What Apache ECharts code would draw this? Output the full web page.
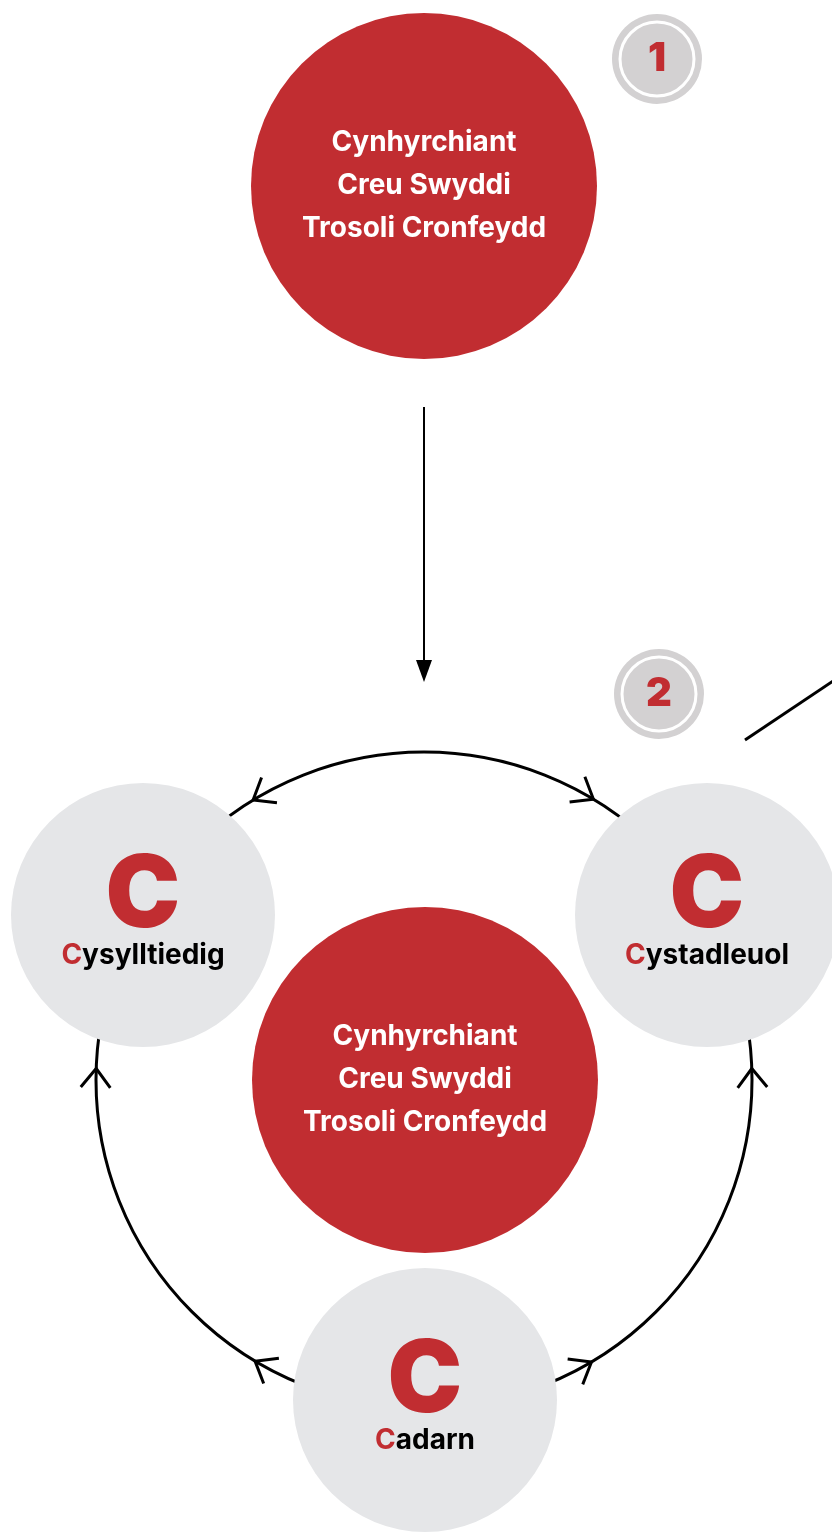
<!DOCTYPE html>
<html><head><meta charset="utf-8">
<script src="https://cdn.jsdelivr.net/npm/echarts@6/dist/echarts.min.js"></script>
<style>html,body{margin:0;padding:0;background:#fff}#c{width:832px;height:1532px}</style>
</head><body><div id="c"></div>
<script>
// ---- content ----
const hubLines = ['Cynhyrchiant', 'Creu Swyddi', 'Trosoli Cronfeydd'];
const pillarNames = ['Cysylltiedig', 'Cystadleuol', 'Cadarn'];
const stepNumbers = ['1', '2'];
const flowDirections = [-1, 1, 1, -1, 1, -1];

// ---- layout & style ----
const RED = '#c12d31', GREY = '#e5e6e8', BADGE = '#d3d1d2', INK = '#000';
const FONT = 'Inter, "Noto Sans", sans-serif';
const layout = {
  hubs: [[424, 186], [425, 1080]],
  hubSize: 346,
  pillars: [[143, 915], [707, 915], [425, 1400]],
  pillarSize: 264,
  badges: [[657, 59], [659, 694]],
  ringCenter: [424, 1080], ringR: 328,
  ringArrowAngles: [-121.4, -58.9, 182, -2, 121, 59.3],
  downArrow: [424, 407, 424, 682],
  diag: [745, 740, 845, 673]
};

const chart = echarts.init(document.getElementById('c'), null, {renderer: 'canvas'});
const option = {
  animation: false,
  grid: {left: 0, right: 0, top: 0, bottom: 0},
  xAxis: {type: 'value', min: 0, max: 832, show: false},
  yAxis: {type: 'value', min: 0, max: 1532, inverse: true, show: false},
  series: [
    { // ring
      type: 'custom', z: 1, silent: true, clip: false,
      data: [layout.ringCenter],
      renderItem(params, api) {
        const c = api.coord([api.value(0), api.value(1)]);
        const r = api.size([layout.ringR, 0])[0];
        return {type: 'circle', shape: {cx: c[0], cy: c[1], r}, style: {fill: 'none', stroke: INK, lineWidth: 3}};
      }
    },
    { // ring arrow chevrons
      type: 'custom', z: 1, silent: true, clip: false,
      data: layout.ringArrowAngles.map((a, i) => [a, flowDirections[i]]),
      renderItem(params, api) {
        const th = api.value(0) * Math.PI / 180, d = api.value(1);
        const c = api.coord(layout.ringCenter);
        const r = api.size([layout.ringR, 0])[0];
        const tip = [c[0] + r * Math.cos(th), c[1] + r * Math.sin(th)];
        const bx = d * Math.sin(th), by = -d * Math.cos(th);
        const ba = Math.atan2(by, bx), L = 24, s = 38 * Math.PI / 180;
        const p1 = [tip[0] + L * Math.cos(ba + s), tip[1] + L * Math.sin(ba + s)];
        const p2 = [tip[0] + L * Math.cos(ba - s), tip[1] + L * Math.sin(ba - s)];
        return {type: 'polyline', shape: {points: [p1, tip, p2]}, style: {fill: 'none', stroke: INK, lineWidth: 3}};
      }
    },
    { // down arrow
      type: 'custom', z: 1, silent: true, clip: false,
      data: [layout.downArrow],
      renderItem(params, api) {
        const a = api.coord([api.value(0), api.value(1)]);
        const b = api.coord([api.value(2), api.value(3)]);
        return {type: 'group', children: [
          {type: 'line', shape: {x1: a[0], y1: a[1], x2: b[0], y2: b[1] - 18}, style: {stroke: INK, lineWidth: 2}},
          {type: 'polygon', shape: {points: [[b[0] - 8, b[1] - 22], [b[0] + 8, b[1] - 22], [b[0], b[1]]]}, style: {fill: INK}}
        ]};
      }
    },
    { // diagonal connector
      type: 'custom', z: 1, silent: true, clip: false,
      data: [layout.diag],
      renderItem(params, api) {
        const a = api.coord([api.value(0), api.value(1)]);
        const b = api.coord([api.value(2), api.value(3)]);
        return {type: 'line', shape: {x1: a[0], y1: a[1], x2: b[0], y2: b[1]}, style: {stroke: INK, lineWidth: 3}};
      }
    },
    { // hubs
      type: 'scatter', z: 3, silent: true, symbol: 'circle', symbolSize: layout.hubSize,
      itemStyle: {color: RED, opacity: 1},
      data: layout.hubs.map(p => ({value: p, name: hubLines.join('\n')})),
      label: {show: true, position: 'inside', formatter: p => p.name, color: '#fff',
        fontFamily: FONT, fontSize: 28, fontWeight: 'bold', lineHeight: 43, align: 'center'}
    },
    { // pillars
      type: 'scatter', z: 2, silent: true, symbol: 'circle', symbolSize: layout.pillarSize,
      itemStyle: {color: GREY, opacity: 1},
      data: pillarNames.map((n, i) => ({value: layout.pillars[i], name: n})),
      label: {show: true, position: 'inside', offset: [0, 3],
        formatter: p => `{big|${p.name[0]}}\n{red|${p.name[0]}}{blk|${p.name.slice(1)}}`,
        rich: {
          big: {fontFamily: FONT, fontSize: 100, fontWeight: 900, color: RED, lineHeight: 76, align: 'center', padding: [10, 0, 0, 0]},
          red: {fontFamily: FONT, fontSize: 28, fontWeight: 'bold', color: RED, lineHeight: 52},
          blk: {fontFamily: FONT, fontSize: 28, fontWeight: 'bold', color: INK, lineHeight: 52}
        }}
    },
    { // badge outer
      type: 'scatter', z: 3, silent: true, symbol: 'circle', symbolSize: 90,
      itemStyle: {color: BADGE, opacity: 1},
      data: layout.badges
    },
    { // badge inner ring + number
      type: 'scatter', z: 4, silent: true, symbol: 'circle', symbolSize: 74,
      itemStyle: {color: BADGE, borderColor: '#fff', borderWidth: 3, opacity: 1},
      data: stepNumbers.map((n, i) => ({value: layout.badges[i], name: n})),
      label: {show: true, position: 'inside', formatter: p => p.name, color: RED,
        fontFamily: FONT, fontSize: 40, fontWeight: 900}
    }
  ]
};
chart.setOption(option);
</script></body></html>
